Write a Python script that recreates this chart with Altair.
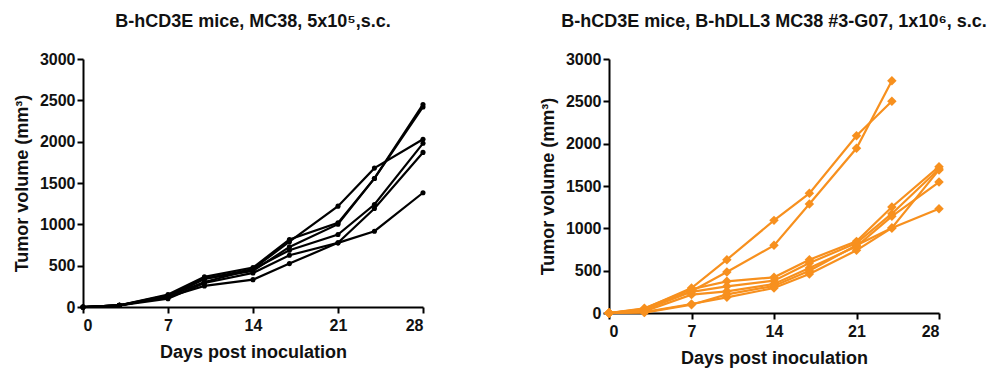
import altair as alt
import pandas as pd

# ---- data ----
days = [0, 3, 7, 10, 14, 17, 21, 24, 28]

# Left panel: B-hCD3E mice, MC38 (6 mice)
left_A = [0, 20, 140, 340, 460, 790, 1220, 1680, 2030]
left_B = [0, 20, 150, 364, 477, 816, 1018, 1555, 2450]
left_C = [0, 20, 121, 343, 436, 727, 1002, 1555, 2420]
left_D = [0, 20, 130, 303, 457, 687, 877, 1240, 1980]
left_E = [0, 20, 101, 290, 412, 626, 776, 1192, 1870]
left_F = [0, 20, 121, 255, 331, 525, 776, 917, 1382]

# Right panel: B-hCD3E mice, B-hDLL3 MC38 #3-G07 (7 mice)
days_short = [0, 3, 7, 10, 14, 17, 21, 24]
right_F1 = [0, 50, 295, 630, 1094, 1413, 2094, 2500]
right_F2 = [0, 40, 256, 484, 799, 1287, 1945, 2744]
right_S1 = [0, 55, 280, 374, 421, 630, 846, 1252, 1728]
right_S2 = [0, 40, 250, 315, 382, 590, 827, 1173, 1700]
right_S3 = [0, 20, 217, 256, 342, 531, 787, 1142, 1547]
right_S4 = [0, 10, 106, 185, 295, 460, 740, 1004, 1690]
right_S5 = [0, 5, 98, 220, 320, 500, 800, 1004, 1232]

x_ticks = [0, 7, 14, 21, 28]
y_ticks = [0, 500, 1000, 1500, 2000, 2500, 3000]

title_left = "B-hCD3E mice, MC38, 5x10\u2075,s.c."
title_right = "B-hCD3E mice, B-hDLL3 MC38 #3-G07, 1x10\u2076, s.c."
x_title = "Days post inoculation"
y_title = "Tumor volume (mm\u00b3)"

ORANGE = "#F7901E"
FONT = "Liberation Sans"


def long_df(series, xs_map):
    rows = []
    for name, vals in series.items():
        xs = xs_map[name]
        for d, v in zip(xs, vals):
            rows.append({"mouse": name, "day": d, "volume": v})
    return pd.DataFrame(rows)


left_series = {"A": left_A, "B": left_B, "C": left_C, "D": left_D, "E": left_E, "F": left_F}
left_df = long_df(left_series, {k: days for k in left_series})

right_series = {"F1": right_F1, "F2": right_F2, "S1": right_S1, "S2": right_S2,
                "S3": right_S3, "S4": right_S4, "S5": right_S5}
right_xs = {k: (days_short if k.startswith("F") else days) for k in right_series}
right_df = long_df(right_series, right_xs)


def panel(df, title, color, shape, size, w, h):
    x = alt.X("day:Q", scale=alt.Scale(domain=[0, 28], nice=False),
              axis=alt.Axis(values=x_ticks, title=x_title, labelPadding=4, titlePadding=10))
    y = alt.Y("volume:Q", scale=alt.Scale(domain=[0, 3000], nice=False),
              axis=alt.Axis(values=y_ticks, title=y_title, format="d", titlePadding=8))
    base = alt.Chart(df).encode(x=x, y=y, detail="mouse:N")
    line = base.mark_line(color=color, strokeWidth=2.2)
    pts = base.mark_point(color=color, filled=True, opacity=1, shape=shape, size=size)
    return alt.layer(line, pts).properties(
        width=w, height=h,
        title=alt.TitleParams(title, font=FONT, fontSize=18, fontWeight="bold",
                              anchor="middle", frame="group", offset=20, color="#111"),
    )


left = panel(left_df, title_left, "black", "circle", 26, 340, 248)
right = panel(right_df, title_right, ORANGE, "diamond", 90, 330, 254)

chart = alt.hconcat(left, right, spacing=111).configure_view(stroke=None).configure_axis(
    domainColor="black", domainWidth=2, tickColor="black", tickWidth=2, tickSize=6,
    labelFont=FONT, labelFontSize=16, labelFontWeight="bold", labelColor="#111",
    titleFont=FONT, titleFontSize=18, titleFontWeight="bold", titleColor="#111",
    grid=False, labelPadding=2,
)

chart.save("out.html", embed_options={"renderer": "svg", "actions": False})
